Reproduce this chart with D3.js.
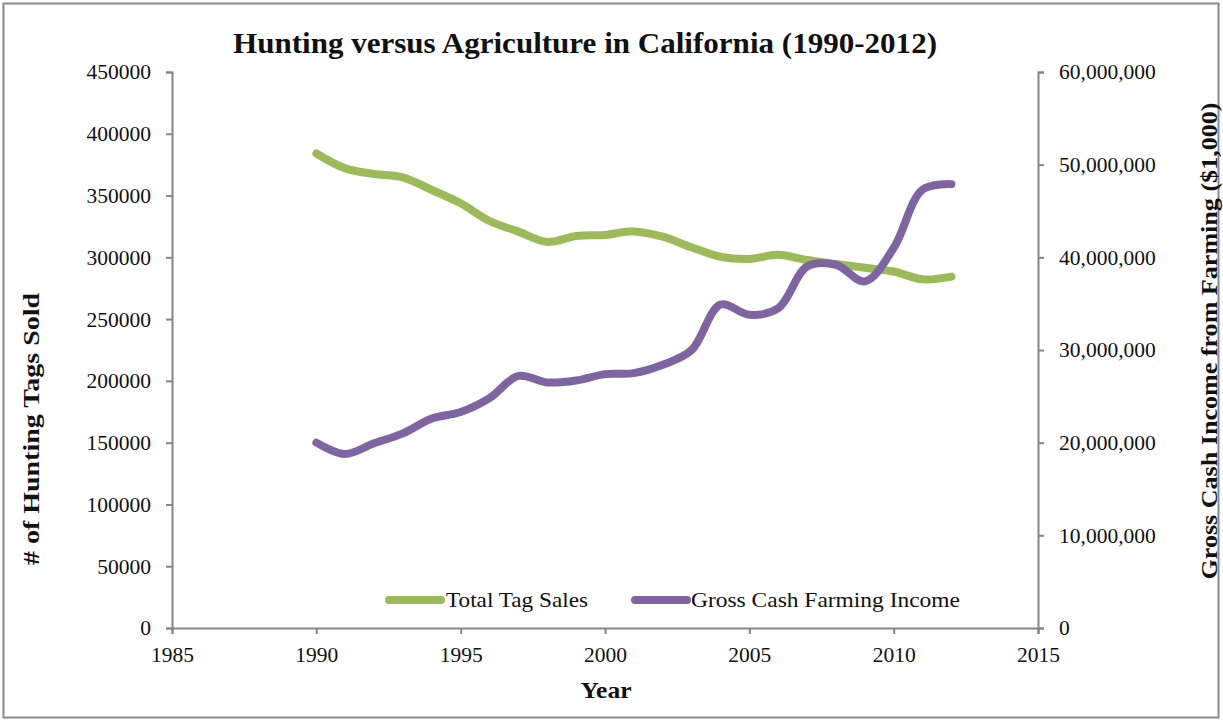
<!DOCTYPE html>
<html><head><meta charset="utf-8">
<script src="https://cdn.jsdelivr.net/npm/d3@7"></script>
<style>
body{margin:0;background:#fff;}
svg{display:block;font-family:"Liberation Serif","DejaVu Serif",serif;}
</style></head>
<body><svg id="c" width="1223" height="721"></svg>
<script>
const years = [1990,1991,1992,1993,1994,1995,1996,1997,1998,1999,2000,2001,2002,2003,2004,2005,2006,2007,2008,2009,2010,2011,2012];
const tagSales = [384000,372000,367500,364800,354500,343700,329400,320800,312500,317300,318100,321000,316700,308100,300500,298700,302000,297800,294600,291500,288500,282200,284400];
const farmIncome = [20000000,18780000,19930000,21000000,22600000,23300000,24800000,27200000,26500000,26700000,27400000,27500000,28400000,30000000,34900000,33800000,34500000,39000000,39200000,37400000,41000000,47300000,47900000];
const xTicks = [1985,1990,1995,2000,2005,2010,2015];
const leftTicks = [0,50000,100000,150000,200000,250000,300000,350000,400000,450000];
const rightTicks = [0,10000000,20000000,30000000,40000000,50000000,60000000];
const seriesNames = ["Total Tag Sales","Gross Cash Farming Income"];
const colors = ["#9BBB59","#8064A2"];

const svg = d3.select("#c");
const L=172, R=1038, T=72, B=628;
const x = d3.scaleLinear().domain([1985,2015]).range([L,R]);
const yL = d3.scaleLinear().domain([0,450000]).range([B,T]);
const yR = d3.scaleLinear().domain([0,60000000]).range([B,T]);

svg.append("rect").attr("x",3.5).attr("y",3.5).attr("width",1215).attr("height",714)
  .attr("fill","none").attr("stroke","#8a8a8a").attr("stroke-width",2);

const axisColor="#868686";
const gx = svg.append("g").attr("transform",`translate(0,${B})`)
  .call(d3.axisBottom(x).tickValues(xTicks).tickFormat(d3.format("d")).tickSizeOuter(0).tickSize(6).tickPadding(10));
const gl = svg.append("g").attr("transform",`translate(${L},0)`)
  .call(d3.axisLeft(yL).tickValues(leftTicks).tickFormat(d3.format("d")).tickSizeOuter(0).tickSize(6).tickPadding(15));
const gr = svg.append("g").attr("transform",`translate(${R},0)`)
  .call(d3.axisRight(yR).tickValues(rightTicks).tickFormat(d3.format(",")).tickSizeOuter(0).tickSize(6).tickPadding(15));
[gx,gl,gr].forEach(g=>{
  g.selectAll("path,line").attr("stroke",axisColor).attr("stroke-width",2);
  g.selectAll("text").attr("font-size",21.5).attr("fill","#111").attr("font-family","Liberation Serif, serif");
});
gx.selectAll("text").attr("dy","0.85em");

const lineL = d3.line().x((d,i)=>x(years[i])).y(d=>yL(d)).curve(d3.curveCatmullRom.alpha(0.5));
const lineR = d3.line().x((d,i)=>x(years[i])).y(d=>yR(d)).curve(d3.curveCatmullRom.alpha(0.5));
svg.append("path").attr("d",lineL(tagSales)).attr("fill","none").attr("stroke",colors[0])
  .attr("stroke-width",8).attr("stroke-linecap","round").attr("stroke-linejoin","round");
svg.append("path").attr("d",lineR(farmIncome)).attr("fill","none").attr("stroke",colors[1])
  .attr("stroke-width",8).attr("stroke-linecap","round").attr("stroke-linejoin","round");

// legend
const leg = [{x1:389,x2:441,tx:446,w:142},{x1:635,x2:687,tx:691,w:269}];
leg.forEach((l,i)=>{
  svg.append("line").attr("x1",l.x1).attr("x2",l.x2).attr("y1",600).attr("y2",600)
    .attr("stroke",colors[i]).attr("stroke-width",8).attr("stroke-linecap","round");
  svg.append("text").attr("x",l.tx).attr("y",607).attr("font-size",21.5).attr("fill","#111")
    .attr("textLength",l.w).attr("lengthAdjust","spacingAndGlyphs").text(seriesNames[i]);
});

svg.append("text").attr("x",585).attr("y",53).attr("text-anchor","middle").attr("font-size",29)
  .attr("font-weight","bold").attr("fill","#111").attr("textLength",704).attr("lengthAdjust","spacingAndGlyphs")
  .text("Hunting versus Agriculture in California (1990-2012)");
svg.append("text").attr("x",606).attr("y",698).attr("text-anchor","middle").attr("font-size",23)
  .attr("font-weight","bold").attr("fill","#111").attr("textLength",51).attr("lengthAdjust","spacingAndGlyphs").text("Year");
svg.append("text").attr("transform","translate(39,429) rotate(-90)").attr("text-anchor","middle").attr("font-size",23)
  .attr("font-weight","bold").attr("fill","#111").attr("textLength",272).attr("lengthAdjust","spacingAndGlyphs").text("# of Hunting Tags Sold");
svg.append("text").attr("transform","translate(1217,341) rotate(-90)").attr("text-anchor","middle").attr("font-size",23)
  .attr("font-weight","bold").attr("fill","#111").attr("textLength",477).attr("lengthAdjust","spacingAndGlyphs").text("Gross Cash Income from Farming ($1,000)");
</script></body></html>
